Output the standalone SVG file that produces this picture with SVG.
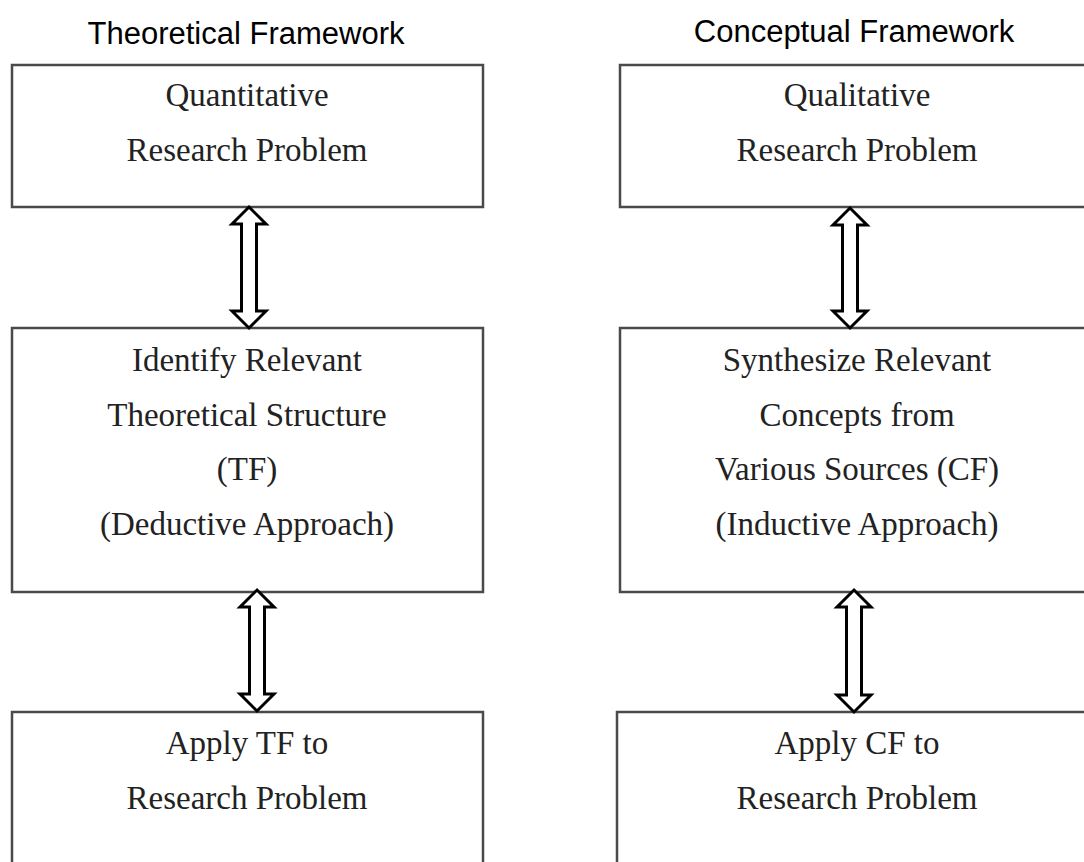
<svg xmlns="http://www.w3.org/2000/svg" width="1084" height="862" viewBox="0 0 1084 862">
  <style>
    .box { fill: #ffffff; stroke: #4a4a4a; stroke-width: 2.5; }
    .title { font-family: "Liberation Sans", Arial, sans-serif; font-size: 31px; fill: #000000; text-anchor: middle; }
    .label { font-family: "Liberation Serif", "Times New Roman", serif; font-size: 33px; fill: #222222; text-anchor: middle; }
    .arrow { fill: #ffffff; stroke: #000000; stroke-width: 3; stroke-linejoin: miter; }
  </style>
  <rect width="1084" height="862" fill="#ffffff"/>

  <text class="title" x="246" y="44">Theoretical Framework</text>
  <text class="title" x="854" y="42">Conceptual Framework</text>

  <!-- Theoretical framework column -->
  <g id="quant-problem">
    <rect class="box" x="12" y="65" width="471" height="142"/>
    <text class="label" x="247" y="106">Quantitative</text>
    <text class="label" x="247" y="161">Research Problem</text>
  </g>
  <g id="identify-tf">
    <rect class="box" x="12" y="328" width="471" height="264"/>
    <text class="label" x="247" y="371">Identify Relevant</text>
    <text class="label" x="247" y="426">Theoretical Structure</text>
    <text class="label" x="247" y="480">(TF)</text>
    <text class="label" x="247" y="535">(Deductive Approach)</text>
  </g>
  <g id="apply-tf">
    <rect class="box" x="12" y="712" width="471" height="170"/>
    <text class="label" x="247" y="754">Apply TF to</text>
    <text class="label" x="247" y="809">Research Problem</text>
  </g>

  <!-- Conceptual framework column -->
  <g id="qual-problem">
    <rect class="box" x="620" y="65" width="480" height="142"/>
    <text class="label" x="857" y="106">Qualitative</text>
    <text class="label" x="857" y="161">Research Problem</text>
  </g>
  <g id="synthesize-cf">
    <rect class="box" x="620" y="328" width="480" height="264"/>
    <text class="label" x="857" y="371">Synthesize Relevant</text>
    <text class="label" x="857" y="426">Concepts from</text>
    <text class="label" x="857" y="480">Various Sources (CF)</text>
    <text class="label" x="857" y="535">(Inductive Approach)</text>
  </g>
  <g id="apply-cf">
    <rect class="box" x="617" y="712" width="483" height="170"/>
    <text class="label" x="857" y="754">Apply CF to</text>
    <text class="label" x="857" y="809">Research Problem</text>
  </g>

  <!-- Hollow double-headed arrows between stages -->
  <g id="connectors">
    <path class="arrow" d="M249,207 L266,224 L256.5,224 L256.5,311 L266,311 L249,328 L232,311 L241.5,311 L241.5,224 L232,224 Z"/>
    <path class="arrow" d="M257,590 L274,607 L264.5,607 L264.5,694 L274,694 L257,711 L240,694 L249.5,694 L249.5,607 L240,607 Z"/>
    <path class="arrow" d="M850,208 L867,225 L857.5,225 L857.5,311 L867,311 L850,328 L833,311 L842.5,311 L842.5,225 L833,225 Z"/>
    <path class="arrow" d="M854,590 L871,607 L861.5,607 L861.5,695 L871,695 L854,712 L837,695 L846.5,695 L846.5,607 L837,607 Z"/>
  </g>
</svg>
